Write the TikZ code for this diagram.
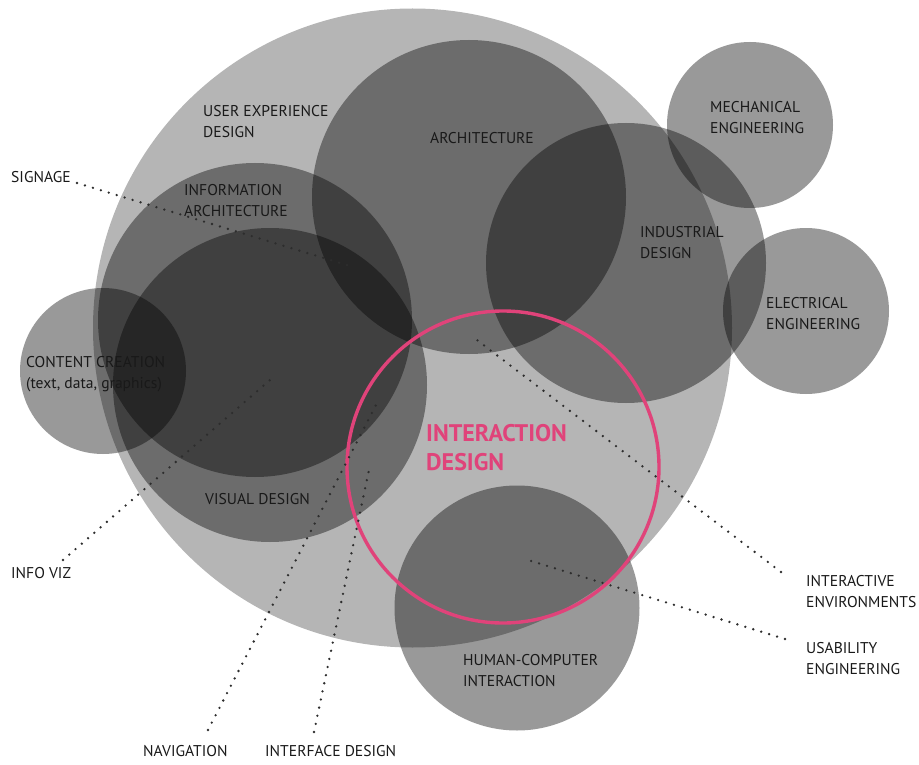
\documentclass[tikz,border=0pt]{standalone}
\usepackage{fontspec}
\setmainfont{PT Sans}
\definecolor{pinkid}{RGB}{224,67,122}
\definecolor{bigfill}{RGB}{181,181,181}
\definecolor{txt}{RGB}{25,25,25}
\definecolor{dotc}{RGB}{45,45,45}
\tikzset{
  disc/.style={circle, fill=black, fill opacity=0.4, draw=none, inner sep=0pt, minimum size=#1},
  lbl/.style={font=\fontsize{15.6}{21}\selectfont, text=txt, align=left, anchor=west, inner sep=0pt},
  dotline/.style={draw=dotc, line width=2.6pt, line cap=round, dash pattern=on 0pt off 8.3pt},
}
\begin{document}
\begin{tikzpicture}[x=1pt,y=-1pt]
\useasboundingbox (0,0) rectangle (919,765);
% circles
\node[circle, fill=bigfill, draw=none, inner sep=0pt, minimum size=639pt] (ux) at (412.5,328) {};
\node[disc=314pt] (arch) at (469,197) {};
\node[disc=280pt] (ind) at (626,263) {};
\node[disc=166pt] (mech) at (750,125) {};
\node[disc=166pt] (elec) at (806,311) {};
\node[disc=314pt] (ia) at (255,320) {};
\node[disc=314pt] (vis) at (270,385) {};
\node[disc=166pt] (cc) at (103,371) {};
\node[disc=245pt] (hci) at (517,608) {};
\node[circle, draw=pinkid, line width=3.4pt, inner sep=0pt, minimum size=312pt] (ixd) at (503,467) {};
% labels
\node[lbl] (luxd) at (203,121.5) {USER EXPERIENCE\\DESIGN};
\node[lbl] (larch) at (430,138) {ARCHITECTURE};
\node[lbl] (lia) at (184,200.5) {INFORMATION\\ARCHITECTURE};
\node[lbl] (lsig) at (11,177) {SIGNAGE};
\node[lbl] (lind) at (640,242.5) {INDUSTRIAL\\DESIGN};
\node[lbl] (lmech) at (710,117.5) {MECHANICAL\\ENGINEERING};
\node[lbl] (lelec) at (766,313.5) {ELECTRICAL\\ENGINEERING};
\node[lbl] (lcc) at (26,374) {CONTENT CREATION\\(text, data, graphics)};
\node[lbl, font=\fontsize{24}{29}\bfseries\selectfont, text=pinkid] (lixd) at (426,447.5) {INTERACTION\\DESIGN};
\node[lbl] (lvis) at (205,499) {VISUAL DESIGN};
\node[lbl] (lviz) at (11,573) {INFO VIZ};
\node[lbl] (lhci) at (463,670.5) {HUMAN-COMPUTER\\INTERACTION};
\node[lbl] (lenv) at (806,592) {INTERACTIVE\\ENVIRONMENTS};
\node[lbl] (lusa) at (806,658.5) {USABILITY\\ENGINEERING};
\node[lbl] (lnav) at (143,751) {NAVIGATION};
\node[lbl] (lint) at (265,751) {INTERFACE DESIGN};
% connector ends
\coordinate (csig0) at (77,183);
\coordinate (csig1) at (350,266);
\coordinate (cviz0) at (63,560);
\coordinate (cviz1) at (270,380);
\coordinate (cnav0) at (208,730);
\coordinate (cnav1) at (376,405);
\coordinate (cint0) at (314,732);
\coordinate (cint1) at (370,465);
\coordinate (cenv0) at (781,572);
\coordinate (cenv1) at (473,337);
\coordinate (cusa0) at (785,639);
\coordinate (cusa1) at (528,560);
\draw[dotline] (csig0) -- (csig1);
\draw[dotline] (cviz0) -- (cviz1);
\draw[dotline] (cnav0) -- (cnav1);
\draw[dotline] (cint0) -- (cint1);
\draw[dotline] (cenv0) -- (cenv1);
\draw[dotline] (cusa0) -- (cusa1);
\end{tikzpicture}
\end{document}
